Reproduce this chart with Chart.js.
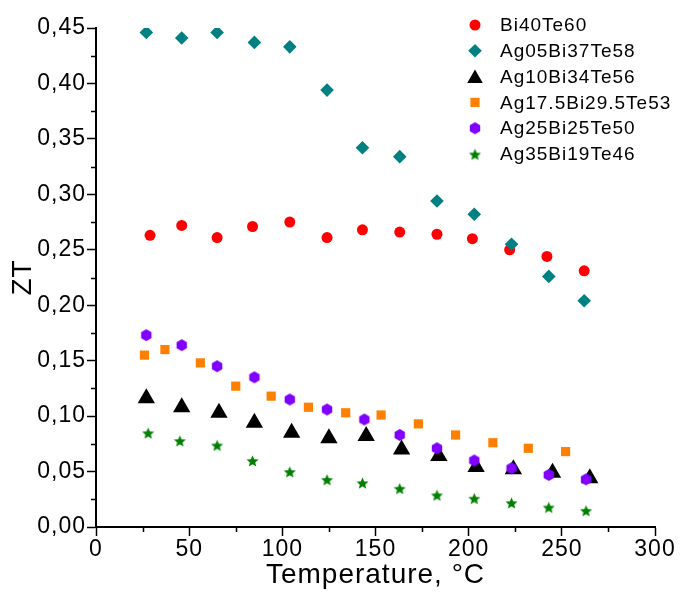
<!DOCTYPE html>
<html>
<head>
<meta charset="utf-8">
<script src="https://cdn.jsdelivr.net/npm/chart.js@4"></script>
<style>
  html, body { margin: 0; padding: 0; background: #fff; }
  #wrap { width: 680px; height: 592px; }
</style>
</head>
<body>
<div id="wrap"><canvas id="myChart" width="680" height="592"></canvas></div>
<script>
// Series names
const seriesNames = ['Bi40Te60', 'Ag05Bi37Te58', 'Ag10Bi34Te56', 'Ag17.5Bi29.5Te53', 'Ag25Bi25Te50', 'Ag35Bi19Te46'];

// Temperature (°C) and ZT for each composition
const tBi40 = [29, 46, 65, 84, 104, 124, 143, 163, 183, 202, 222, 242, 262];
const ztBi40 = [0.263, 0.272, 0.261, 0.271, 0.275, 0.261, 0.268, 0.266, 0.264, 0.260, 0.250, 0.244, 0.231];

const tAg05 = [27, 46, 65, 85, 104, 124, 143, 163, 183, 203, 223, 243, 262];
const ztAg05 = [0.446, 0.441, 0.446, 0.437, 0.433, 0.394, 0.342, 0.334, 0.294, 0.282, 0.255, 0.226, 0.204];

const tAg10 = [27, 46, 66, 85, 105, 125, 145, 164, 184, 204, 224, 245, 265];
const ztAg10 = [0.116, 0.108, 0.103, 0.094, 0.085, 0.080, 0.082, 0.070, 0.064, 0.054, 0.052, 0.049, 0.044];

const tAg17 = [26, 37, 56, 75, 94, 114, 134, 153, 173, 193, 213, 232, 252];
const ztAg17 = [0.155, 0.160, 0.148, 0.127, 0.118, 0.108, 0.103, 0.101, 0.093, 0.083, 0.076, 0.071, 0.068];

const tAg25 = [27, 46, 65, 85, 104, 124, 144, 163, 183, 203, 223, 243, 263];
const ztAg25 = [0.173, 0.164, 0.145, 0.135, 0.115, 0.106, 0.097, 0.083, 0.071, 0.060, 0.053, 0.047, 0.043];

const tAg35 = [28, 45, 65, 84, 104, 124, 143, 163, 183, 203, 223, 243, 263];
const ztAg35 = [0.085, 0.078, 0.074, 0.060, 0.050, 0.043, 0.040, 0.035, 0.029, 0.026, 0.022, 0.018, 0.015];

// Axis ticks
const xTicks = [0, 50, 100, 150, 200, 250, 300];
const yTicks = [0, 0.05, 0.10, 0.15, 0.20, 0.25, 0.30, 0.35, 0.40, 0.45];

const FONT = "'Liberation Sans', Arial, sans-serif";

// filled hexagon and star markers as small canvases
function makeHexagon(color, r) {
    const c = document.createElement('canvas');
    c.width = Math.ceil(r * 2 + 2);
    c.height = Math.ceil(r * 2 + 2);
    const g = c.getContext('2d');
    g.fillStyle = color;
    g.beginPath();
    for (let i = 0; i < 6; i++) {
        const a = -Math.PI / 2 + i * Math.PI / 3;
        const px = c.width / 2 + r * Math.cos(a);
        const py = c.height / 2 + r * Math.sin(a);
        if (i === 0) g.moveTo(px, py); else g.lineTo(px, py);
    }
    g.closePath();
    g.fill();
    return c;
}

function makeStar(color, r, inner) {
    const c = document.createElement('canvas');
    c.width = Math.ceil(r * 2 + 2);
    c.height = Math.ceil(r * 2 + 2);
    const g = c.getContext('2d');
    g.fillStyle = color;
    g.beginPath();
    for (let i = 0; i < 10; i++) {
        const a = -Math.PI / 2 + i * Math.PI / 5;
        const rr = i % 2 === 0 ? r : r * inner;
        const px = c.width / 2 + rr * Math.cos(a);
        const py = c.height / 2 + 1 + rr * Math.sin(a);
        if (i === 0) g.moveTo(px, py); else g.lineTo(px, py);
    }
    g.closePath();
    g.fill();
    return c;
}

const hexMarker = makeHexagon('#8000ff', 6);
const starMarker = makeStar('#008000', 6.3, 0.45);

function toPoints(xs, ys) {
    return xs.map((x, i) => ({ x: x, y: ys[i] }));
}

const styles = [
    { color: '#ff0000', pointStyle: 'circle', radius: 5.5 },
    { color: '#008080', pointStyle: 'rectRot', radius: 6.8 },
    { color: '#000000', pointStyle: 'triangle', radius: 10 },
    { color: '#ff8000', pointStyle: 'rect', radius: 6.5 },
    { color: '#8000ff', pointStyle: hexMarker, radius: 6 },
    { color: '#008000', pointStyle: starMarker, radius: 6 }
];

const allData = [
    toPoints(tBi40, ztBi40),
    toPoints(tAg05, ztAg05),
    toPoints(tAg10, ztAg10),
    toPoints(tAg17, ztAg17),
    toPoints(tAg25, ztAg25),
    toPoints(tAg35, ztAg35)
];

const datasets = seriesNames.map((name, i) => ({
    label: name,
    data: allData[i],
    showLine: false,
    pointStyle: styles[i].pointStyle,
    pointRadius: styles[i].radius,
    pointHoverRadius: styles[i].radius,
    pointBackgroundColor: styles[i].color,
    pointBorderColor: styles[i].color,
    pointBorderWidth: 0,
    order: seriesNames.length - i
}));

// the original text is a little wider than Liberation Sans
const wideText = {
    id: 'wideText',
    beforeDraw(chart) {
        chart.ctx.letterSpacing = '1px';
    }
};

// short minor ticks between the labelled ones
const minorTicks = {
    id: 'minorTicks',
    afterDraw(chart) {
        const ctx = chart.ctx;
        const xs = chart.scales.x;
        const ys = chart.scales.y;
        ctx.save();
        ctx.strokeStyle = '#000';
        ctx.lineWidth = 1.5;
        ctx.beginPath();
        for (let i = 0; i < xTicks.length - 1; i++) {
            const px = Math.round(xs.getPixelForValue((xTicks[i] + xTicks[i + 1]) / 2)) + 0.5;
            ctx.moveTo(px, ys.bottom);
            ctx.lineTo(px, ys.bottom + 5);
        }
        for (let i = 0; i < yTicks.length - 1; i++) {
            const py = Math.round(ys.getPixelForValue((yTicks[i] + yTicks[i + 1]) / 2)) + 0.5;
            ctx.moveTo(xs.left, py);
            ctx.lineTo(xs.left - 5, py);
        }
        ctx.stroke();
        ctx.restore();
    }
};

// legend in the upper right corner of the plot
const cornerLegend = {
    id: 'cornerLegend',
    afterDraw(chart) {
        const ctx = chart.ctx;
        const x0 = 475, y0 = 25, rowH = 25.8;
        ctx.save();
        ctx.font = '19px ' + FONT;
        ctx.textBaseline = 'middle';
        ctx.textAlign = 'left';
        chart.data.datasets.forEach((ds, i) => {
            const y = y0 + i * rowH;
            ctx.fillStyle = ds.pointBackgroundColor;
            let r = ds.pointRadius;
            if (ds.pointStyle === 'triangle') r = 9;
            Chart.helpers.drawPoint(ctx, { pointStyle: ds.pointStyle, radius: r, rotation: 0, borderWidth: 0 }, x0, ds.pointStyle === 'triangle' ? y + 2 : y);
            ctx.fillStyle = '#000';
            ctx.fillText(ds.label, x0 + 25, y + 1);
        });
        ctx.restore();
    }
};

const ctx = document.getElementById('myChart').getContext('2d');
const myChart = new Chart(ctx, {
    type: 'scatter',
    data: { datasets: datasets },
    plugins: [wideText, minorTicks, cornerLegend],
    options: {
        responsive: false,
        animation: false,
        events: [],
        layout: { padding: { left: 0, right: 25, top: 28, bottom: 0 } },
        plugins: {
            legend: { display: false },
            tooltip: { enabled: false }
        },
        scales: {
            x: {
                type: 'linear',
                min: 0,
                max: 300,
                afterFit: (scale) => { scale.height = 65; },
                afterBuildTicks: (scale) => { scale.ticks = xTicks.map(v => ({ value: v })); },
                ticks: {
                    color: '#000',
                    padding: 0,
                    font: { family: FONT, size: 23 },
                    callback: (v) => String(v)
                },
                grid: { drawOnChartArea: false, tickLength: 9, tickWidth: 1.5, tickColor: '#000' },
                border: { color: '#000', width: 2 },
                title: {
                    display: true,
                    text: 'Temperature, °C',
                    color: '#000',
                    font: { family: FONT, size: 28 },
                    padding: { top: 0, bottom: 0 }
                }
            },
            y: {
                type: 'linear',
                min: 0,
                max: 0.45,
                afterFit: (scale) => { scale.width = 96; },
                afterBuildTicks: (scale) => { scale.ticks = yTicks.map(v => ({ value: v })); },
                ticks: {
                    color: '#000',
                    padding: 1,
                    font: { family: FONT, size: 23 },
                    callback: (v) => v.toFixed(2).replace('.', ',')
                },
                grid: { drawOnChartArea: false, tickLength: 9, tickWidth: 1.5, tickColor: '#000' },
                border: { color: '#000', width: 2 },
                title: {
                    display: true,
                    text: 'ZT',
                    color: '#000',
                    font: { family: FONT, size: 28 },
                    padding: { top: 6, bottom: 0 }
                }
            }
        }
    }
});
</script>
</body>
</html>
